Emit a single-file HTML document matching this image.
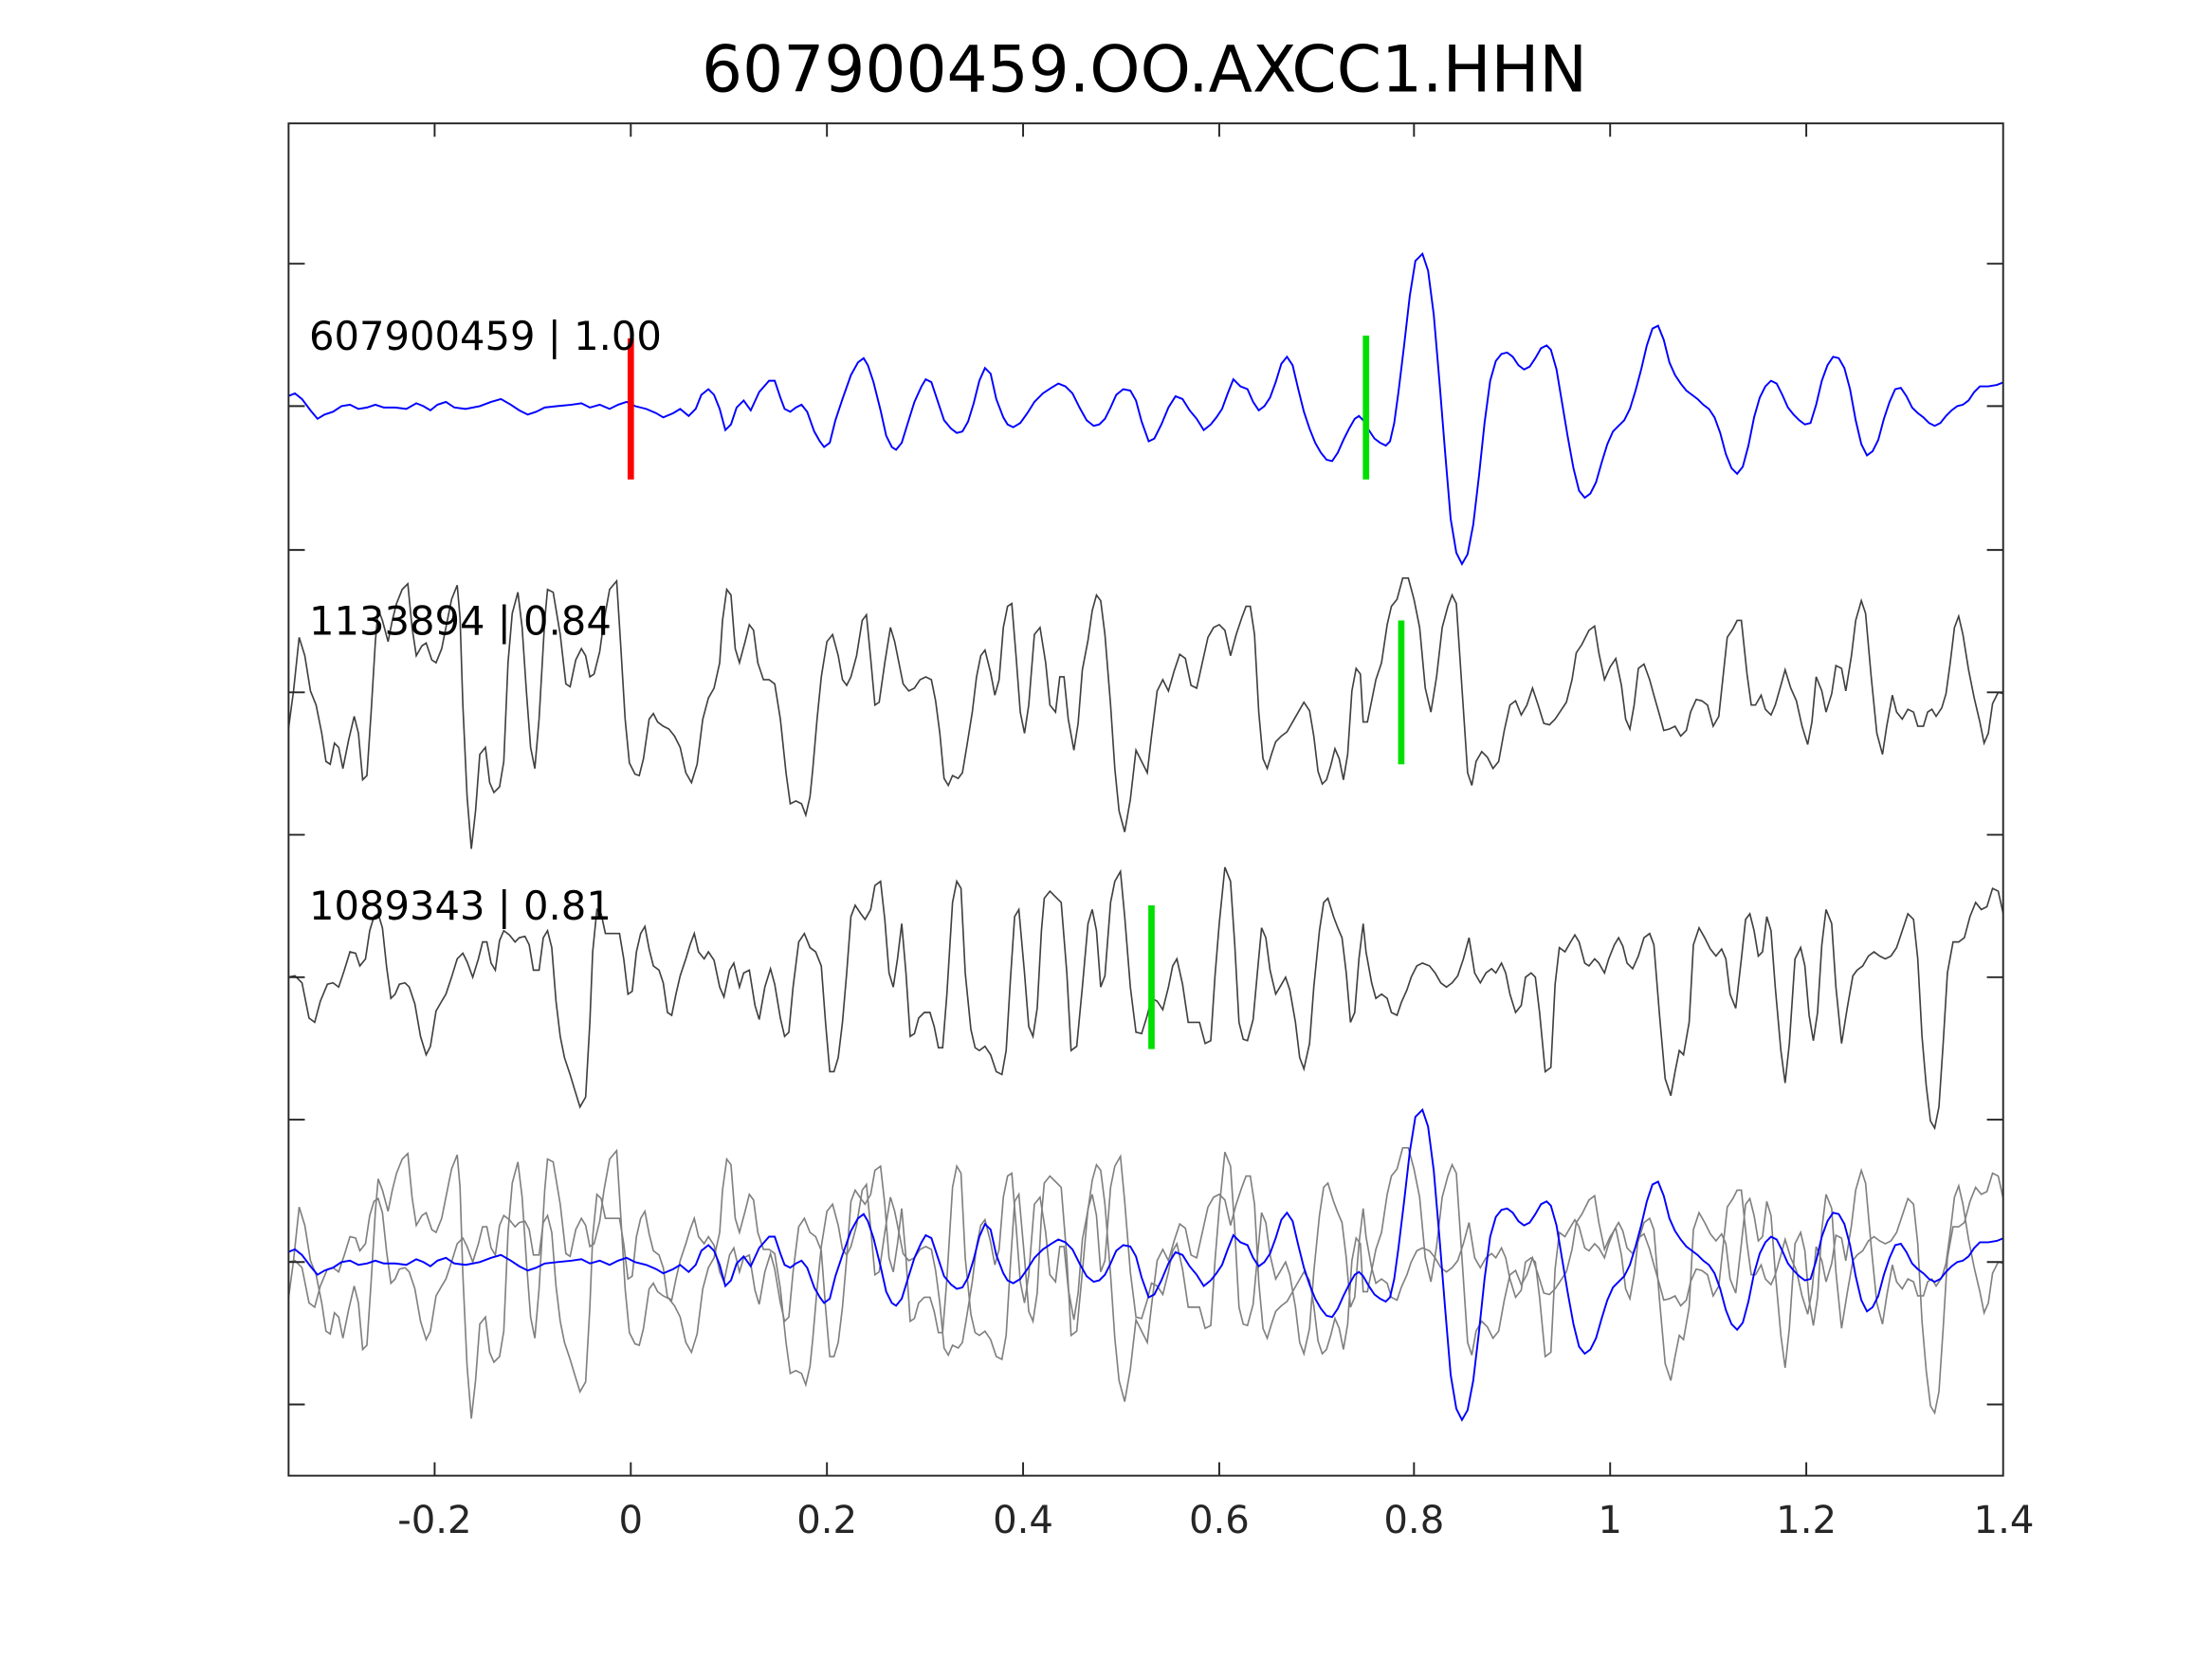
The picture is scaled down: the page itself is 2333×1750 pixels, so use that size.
<!DOCTYPE html>
<html><head><meta charset="utf-8"><style>html,body{margin:0;padding:0;background:#fff}svg{display:block}</style></head>
<body>
<svg width="2333" height="1750" viewBox="0 0 1567.5 1176.5" preserveAspectRatio="none" xmlns="http://www.w3.org/2000/svg">
<rect width="1567.5" height="1176.5" fill="#fff"/>
<defs>
<polyline id="b" fill="none" stroke="#0000ff" stroke-width="1.3" points="204,281 209,279 214,283 220,291 225,297 230,294 236,292 242,288 248,287 254,290 260,289 266,287 272,289 280,289 288,290 295,286 300,288 305,291 310,287 316,285 322,289 330,290 340,288 348,285 355,283 362,287 368,291 374,294 380,292 386,289 395,288 405,287 412,286 418,289 425,287 432,290 438,287 444,285 450,288 458,290 465,293 470,296 477,293 482,290 488,295 493,290 497,280 502,276 506,280 510,290 514,305 518,301 522,289 527,284 532,291 538,278 545,270 549,270 553,282 556,290 560,292 564,289 568,287 572,292 577,306 581,313 584,317 588,314 592,298 597,283 603,266 608,257 612,254 615,259 619,271 624,291 628,309 632,317 635,319 639,314 643,301 648,285 653,274 656,269 660,271 665,286 669,298 674,304 678,307 682,306 686,299 690,286 694,270 698,261 702,265 706,283 711,296 714,301 718,303 723,300 728,293 733,285 739,279 745,275 750,272 755,274 760,279 765,289 770,298 775,302 779,301 783,297 787,289 791,280 796,276 801,277 805,284 809,299 814,313 818,311 823,301 828,289 833,281 838,283 843,291 848,297 853,305 858,301 862,296 866,290 870,279 874,269 879,274 884,276 888,285 892,291 896,288 900,282 904,271 908,258 912,253 916,259 920,276 924,292 928,304 932,314 936,321 940,326 944,327 948,321 952,312 956,304 960,297 963,295 966,298 970,305 974,311 978,314 982,316 985,313 988,300 991,278 995,245 999,210 1003,185 1008,180 1012,192 1016,223 1020,270 1024,320 1028,368 1032,392 1036,400 1040,393 1044,372 1048,338 1052,300 1056,270 1060,256 1064,251 1068,250 1072,253 1076,259 1080,262 1084,260 1088,254 1092,247 1096,245 1099,248 1103,262 1107,286 1111,310 1115,332 1119,348 1123,353 1127,350 1131,342 1135,328 1139,315 1143,306 1147,302 1151,298 1155,290 1159,277 1163,262 1167,245 1171,233 1175,231 1179,241 1183,257 1187,266 1191,272 1195,277 1199,280 1203,283 1207,287 1211,290 1215,296 1219,307 1223,322 1227,332 1231,336 1235,331 1239,316 1243,296 1247,282 1251,274 1255,270 1259,272 1263,280 1267,289 1271,294 1275,298 1279,301 1283,300 1287,287 1291,270 1295,259 1299,253 1303,254 1307,261 1311,276 1315,298 1319,315 1323,323 1327,320 1331,312 1335,297 1339,285 1343,276 1347,275 1351,281 1355,289 1359,293 1363,296 1367,300 1371,302 1375,300 1379,295 1383,291 1387,288 1391,287 1395,284 1399,278 1403,274 1409,274 1415,273 1420,271"/>
<polyline id="g2" fill="none" stroke-width="1.1" points="204,520 208,490 212,452 216,465 220,490 224,500 228,520 231,540 234,542 237,527 240,530 243,545 247,525 251,508 254,520 257,553 260,550 263,505 266,455 268,432 271,440 275,455 278,440 281,428 285,418 289,414 292,445 295,465 299,458 302,456 306,468 309,470 313,460 317,440 320,425 324,415 326,438 328,500 331,565 334,602 337,575 340,535 344,530 347,555 350,562 354,558 357,540 360,470 363,435 367,420 370,445 373,490 376,530 379,545 382,510 386,440 388,418 392,420 397,450 401,485 404,487 408,468 412,460 415,465 418,480 421,478 425,462 428,440 432,418 437,412 440,460 443,510 446,541 450,549 453,550 456,538 460,510 463,506 466,512 470,515 474,517 478,522 482,530 486,548 490,555 494,542 498,510 502,495 506,488 510,470 512,440 515,418 518,422 521,460 524,470 528,455 531,443 534,447 537,470 541,482 545,482 549,485 553,510 557,548 560,570 564,568 568,570 571,578 574,565 576,545 579,510 582,480 586,455 590,450 594,465 597,482 600,486 603,480 607,465 611,440 614,436 617,467 620,500 623,498 627,470 631,445 634,455 637,470 640,485 644,490 648,488 652,482 656,480 660,482 663,497 666,520 669,552 672,557 675,550 679,552 682,548 685,530 689,505 692,480 695,465 698,461 702,477 705,493 708,482 711,445 714,430 717,428 720,465 723,505 726,520 729,500 733,450 737,445 741,470 744,500 748,505 751,480 754,480 757,510 761,532 764,513 767,475 771,454 774,433 777,422 780,426 783,450 787,500 790,545 793,575 797,590 801,567 805,532 809,540 813,548 816,522 820,490 824,482 828,490 832,476 836,464 840,467 844,486 848,488 852,470 856,452 860,445 864,443 868,447 872,465 876,450 880,438 883,430 886,430 889,450 892,505 895,538 898,545 901,535 904,526 908,522 912,519 916,512 920,505 924,498 928,504 931,522 934,547 937,556 940,553 943,543 946,531 949,538 952,553 955,535 958,490 961,474 964,478 966,512 969,512 972,497 975,482 979,470 983,443 986,430 990,425 994,410 998,410 1002,425 1006,445 1010,488 1014,505 1018,480 1022,445 1026,430 1029,422 1032,428 1036,488 1040,548 1043,557 1046,540 1050,533 1054,537 1058,545 1062,540 1066,518 1070,500 1074,497 1078,507 1082,500 1086,488 1090,500 1094,513 1098,514 1102,510 1106,504 1110,498 1114,482 1117,463 1121,457 1126,447 1130,444 1133,463 1137,482 1141,473 1145,467 1149,486 1152,510 1155,517 1158,500 1161,474 1165,471 1169,482 1172,493 1176,507 1179,518 1183,517 1187,515 1191,522 1195,518 1198,505 1202,496 1206,497 1210,500 1214,515 1218,508 1221,480 1224,452 1228,446 1231,440 1234,440 1238,478 1241,500 1244,500 1248,493 1251,503 1255,507 1258,500 1262,486 1265,475 1269,488 1273,497 1277,515 1281,528 1284,512 1287,480 1291,490 1294,505 1298,492 1301,472 1305,474 1308,490 1312,465 1315,440 1319,426 1322,435 1326,480 1330,520 1334,535 1337,515 1341,493 1344,505 1348,510 1352,503 1356,505 1359,515 1363,515 1366,505 1369,503 1372,508 1376,502 1379,492 1382,470 1385,445 1388,437 1391,450 1395,475 1399,495 1403,512 1406,527 1409,520 1412,499 1416,491 1420,492"/>
<polyline id="g3" fill="none" stroke-width="1.1" points="204,693 209,692 214,697 219,722 223,725 227,710 232,698 236,697 240,700 244,688 248,675 252,676 255,685 259,680 262,660 265,650 268,648 271,658 274,686 277,708 280,705 283,698 287,697 290,700 294,712 298,735 302,748 305,742 309,717 313,710 316,705 320,693 324,680 328,676 331,682 335,693 339,680 342,668 345,668 348,683 351,688 354,667 357,660 361,663 365,668 368,665 372,664 375,670 378,688 382,688 385,665 388,660 391,672 394,710 397,735 400,750 404,762 407,772 411,785 415,778 418,725 420,675 423,645 426,648 429,662 432,662 436,662 439,662 442,680 445,705 448,703 451,675 454,662 457,657 460,673 463,685 467,688 470,697 473,718 476,720 479,705 482,692 486,680 489,670 492,662 495,675 499,680 502,675 506,681 510,700 513,707 517,688 520,683 524,700 527,690 531,688 535,713 538,723 542,700 546,687 549,698 553,722 556,735 559,732 562,700 566,668 570,662 574,672 578,675 582,685 585,725 588,760 591,760 594,750 597,725 600,690 603,650 606,642 610,648 613,652 617,645 620,628 624,625 627,652 630,690 633,700 636,680 639,655 642,690 645,735 648,733 651,722 655,718 659,718 662,728 665,743 668,743 671,705 675,640 678,625 681,630 684,690 688,730 691,743 694,745 698,742 702,748 706,760 710,762 713,745 716,695 719,650 722,645 726,690 729,728 732,735 735,715 738,660 740,637 744,632 748,636 752,640 756,690 759,745 763,742 767,700 771,655 774,645 777,660 780,700 783,692 787,640 790,625 794,618 797,650 801,700 805,732 809,733 813,720 816,708 820,710 824,716 828,700 831,685 834,680 838,698 842,725 846,725 850,725 854,740 858,738 861,692 864,655 868,615 872,625 875,670 878,725 881,737 884,738 888,723 891,690 894,658 897,665 900,688 904,705 907,700 911,693 914,702 918,725 921,750 924,758 928,740 931,700 935,660 938,640 941,637 945,650 948,658 951,665 954,690 957,725 960,718 963,680 966,655 968,675 972,697 975,708 979,705 983,708 986,718 990,720 993,711 997,702 1000,693 1004,685 1008,683 1013,685 1017,690 1021,697 1025,700 1029,697 1033,692 1037,680 1041,665 1045,690 1049,697 1053,690 1057,687 1060,690 1064,683 1067,690 1070,705 1074,718 1078,713 1081,693 1085,690 1088,693 1091,718 1095,760 1099,757 1102,698 1105,672 1109,675 1113,668 1116,663 1119,668 1123,683 1126,685 1130,680 1133,683 1137,690 1140,680 1144,670 1147,665 1150,671 1153,683 1157,687 1161,678 1165,665 1169,662 1172,670 1176,720 1180,765 1184,777 1187,760 1190,745 1193,748 1197,725 1200,670 1204,658 1208,665 1212,673 1216,678 1220,673 1223,680 1226,705 1230,715 1234,680 1237,652 1240,648 1243,660 1246,678 1249,675 1252,650 1255,660 1258,700 1262,745 1265,768 1268,740 1272,680 1276,672 1279,685 1282,720 1285,738 1288,718 1291,670 1294,645 1298,655 1301,700 1305,740 1309,715 1313,692 1316,688 1320,685 1324,678 1328,675 1332,678 1336,680 1340,678 1344,672 1348,660 1352,648 1356,652 1359,680 1362,735 1365,770 1368,795 1371,800 1374,785 1377,740 1380,690 1384,668 1388,668 1392,665 1396,650 1400,640 1404,645 1408,643 1412,630 1416,632 1420,650"/>
<clipPath id="c"><rect x="204" y="87" width="1216" height="960"/></clipPath>
</defs>
<g clip-path="url(#c)">
<use href="#b"/>
<use href="#g2" stroke="#404040"/>
<use href="#g3" stroke="#404040"/>
<use href="#g2" stroke="#808080" transform="translate(0,404)"/>
<use href="#g3" stroke="#808080" transform="translate(0,202)"/>
<use href="#b" transform="translate(0,607)"/>
</g>
<g stroke-width="4.5">
<line x1="447" y1="240" x2="447" y2="340" stroke="#ff0000"/>
<line x1="968" y1="238" x2="968" y2="340" stroke="#00e000"/>
<line x1="993" y1="440" x2="993" y2="542" stroke="#00e000"/>
<line x1="816" y1="642" x2="816" y2="744" stroke="#00e000"/>
</g>
<g font-family="DejaVu Sans, Liberation Sans, sans-serif" fill="#000">
<text x="811" y="65" font-size="45.5" text-anchor="middle">607900459.OO.AXCC1.HHN</text>
<text x="219" y="248" font-size="28">607900459 | 1.00</text>
<text x="219" y="450" font-size="28">1133894 | 0.84</text>
<text x="219" y="652" font-size="28">1089343 | 0.81</text>
</g>
<g stroke="#262626" stroke-width="1.3" fill="none">
<rect x="204.5" y="87.5" width="1215" height="959"/>
<path d="M308,87v10M447,87v10M586,87v10M725,87v10M864,87v10M1002,87v10M1141,87v10M1280,87v10
M308,1047v-10M447,1047v-10M586,1047v-10M725,1047v-10M864,1047v-10M1002,1047v-10M1141,1047v-10M1280,1047v-10
M204,187h12M204,288h12M204,390h12M204,491h12M204,592h12M204,693h12M204,794h12M204,895h12M204,996h12
M1420,187h-12M1420,288h-12M1420,390h-12M1420,491h-12M1420,592h-12M1420,693h-12M1420,794h-12M1420,895h-12M1420,996h-12"/>
</g>
<g font-family="DejaVu Sans, Liberation Sans, sans-serif" font-size="27" fill="#262626" text-anchor="middle">
<text x="308" y="1087">-0.2</text><text x="447" y="1087">0</text><text x="586" y="1087">0.2</text><text x="725" y="1087">0.4</text><text x="864" y="1087">0.6</text><text x="1002" y="1087">0.8</text><text x="1141" y="1087">1</text><text x="1280" y="1087">1.2</text><text x="1420" y="1087">1.4</text>
</g>
</svg>
</body></html>
